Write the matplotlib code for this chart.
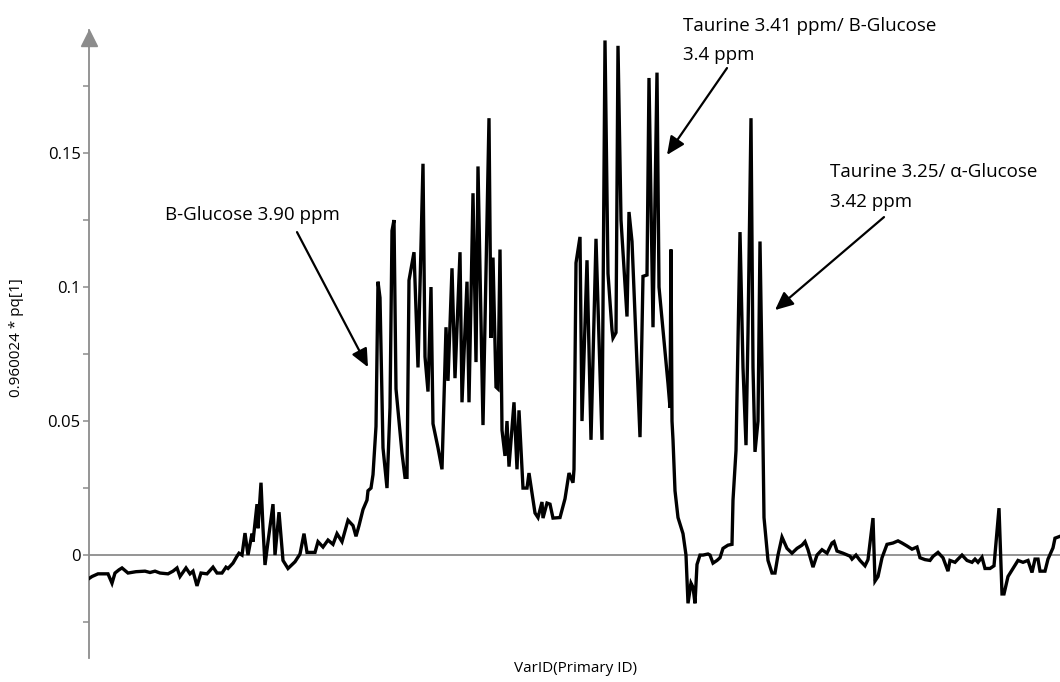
import matplotlib
matplotlib.use("Agg")
import matplotlib.pyplot as plt
import matplotlib.transforms as mtransforms

plt.rcParams["font.family"] = ["Open Sans", "DejaVu Sans"]

# loading profile (VarID vs scaled pq[1])
var_id = [
    88, 92, 98, 108, 112, 115, 119, 122, 128, 136, 145, 150, 155, 160, 168, 173,
    177, 180, 186, 190, 193, 197, 201, 207, 213, 217, 222, 226, 228, 233, 237, 239,
    242, 245, 248, 252, 253, 257, 258, 261, 263, 265, 268, 273, 275, 279, 283, 288,
    295, 300, 304, 307, 315, 318, 323, 328, 333, 337, 342, 348, 353, 356, 359, 363,
    367, 368, 371, 373, 376, 378, 380, 383, 387, 390, 392, 394, 396, 402, 405, 407,
    409, 414, 418, 423, 425, 428, 431, 433, 438, 442, 446, 448, 452, 455, 460, 462,
    467, 469, 473, 476, 478, 483, 489, 491, 493, 496, 498, 500, 502, 505, 507, 509,
    514, 517, 519, 523, 527, 529, 535, 538, 542, 543, 547, 550, 553, 560, 565, 569,
    573, 574, 576, 580, 582, 587, 591, 596, 602, 605, 608, 612, 613, 616, 618, 621,
    627, 629, 632, 640, 643, 647, 649, 653, 657, 659, 664, 668, 670, 671, 672, 673,
    675, 678, 683, 686, 688, 691, 693, 695, 697, 700, 703, 708, 710, 713, 717, 720,
    723, 728, 732, 733, 736, 740, 743, 746, 748, 751, 753, 755, 758, 760, 762, 764,
    768, 772, 775, 778, 782, 787, 792, 797, 802, 805, 808, 813, 817, 822, 827, 832,
    834, 837, 843, 850, 852, 856, 860, 865, 868, 873, 875, 878, 882, 887, 893, 898,
    902, 907, 912, 917, 920, 925, 930, 933, 938, 943, 948, 950, 955, 958, 962, 967,
    972, 975, 978, 982, 985, 990, 994, 999, 1002, 1004, 1008, 1013, 1018, 1023, 1028, 1032,
    1035, 1038, 1040, 1045, 1048, 1053, 1055, 1060,
]
pq1 = [
    -0.009, -0.008, -0.007, -0.007, -0.0105, -0.0067, -0.0055, -0.0048, -0.0067, -0.0062, -0.006, -0.0065, -0.006, -0.0067, -0.007, -0.006,
    -0.0048, -0.008, -0.0048, -0.007, -0.006, -0.0115, -0.0067, -0.007, -0.0045, -0.0067, -0.0067, -0.0045, -0.005, -0.003, -0.0004, 0.0007,
    0.0, 0.0082, 0.0, 0.008, 0.005, 0.019, 0.010, 0.027, 0.010, -0.0037, 0.005, 0.019, 0.0, 0.016, -0.002, -0.005,
    -0.0025, 0.0004, 0.008, 0.001, 0.001, 0.005, 0.003, 0.0056, 0.004, 0.008, 0.005, 0.013, 0.011, 0.007, 0.011, 0.017,
    0.0205, 0.024, 0.025, 0.030, 0.048, 0.102, 0.096, 0.040, 0.025, 0.055, 0.121, 0.125, 0.062, 0.038, 0.029, 0.029,
    0.1025, 0.113, 0.070, 0.146, 0.074, 0.061, 0.100, 0.049, 0.040, 0.032, 0.085, 0.065, 0.107, 0.066, 0.113, 0.057,
    0.102, 0.057, 0.135, 0.072, 0.145, 0.0485, 0.163, 0.081, 0.111, 0.0627, 0.062, 0.114, 0.0466, 0.037, 0.050, 0.033,
    0.057, 0.032, 0.054, 0.025, 0.025, 0.0306, 0.0157, 0.014, 0.0198, 0.0138, 0.0194, 0.019, 0.0138, 0.014, 0.021, 0.0306,
    0.027, 0.032, 0.109, 0.1187, 0.050, 0.110, 0.043, 0.118, 0.043, 0.192, 0.105, 0.084, 0.081, 0.083, 0.190, 0.125,
    0.089, 0.128, 0.117, 0.044, 0.104, 0.1045, 0.178, 0.085, 0.180, 0.100, 0.080, 0.064, 0.055, 0.114, 0.050, 0.043,
    0.024, 0.014, 0.008, 0.0, -0.018, -0.0105, -0.012, -0.018, -0.0035, 0.0, 0.0, 0.0004, 0.0, -0.003, -0.002, -0.001,
    0.0025, 0.0037, 0.004, 0.0205, 0.039, 0.1205, 0.070, 0.041, 0.083, 0.163, 0.070, 0.0385, 0.050, 0.117, 0.070, 0.014,
    -0.002, -0.0067, -0.0067, 0.0, 0.0067, 0.0025, 0.0007, 0.0025, 0.0037, 0.005, 0.002, -0.0045, 0.0, 0.002, 0.0007, 0.0045,
    0.005, 0.0015, 0.0007, -0.0004, -0.0015, 0.0, -0.002, -0.004, -0.0017, 0.0138, -0.0097, -0.008, -0.001, 0.004, 0.0045, 0.0053,
    0.0045, 0.0034, 0.0022, 0.003, -0.001, -0.0017, -0.002, -0.0005, 0.001, -0.001, -0.006, -0.002, -0.0027, -0.0015, 0.0, -0.002,
    -0.0027, -0.0015, -0.0027, -0.0008, -0.005, -0.005, -0.004, 0.0175, -0.0145, -0.0145, -0.008, -0.005, -0.002, -0.0027, -0.002, -0.0065,
    -0.0015, -0.0015, -0.006, -0.006, -0.0015, 0.0027, 0.0063, 0.007,
]

major_ticks = [0, 0.05, 0.1, 0.15]
major_labels = ["0", "0.05", "0.1", "0.15"]
minor_ticks = [-0.025, 0.025, 0.075, 0.125, 0.175]

# (text lines, left x, line y's, arrow tail, arrow tip) in data units
annotations = [
    (["B-Glucose 3.90 ppm"], 165, [0.1269], (297, 0.1205), (368, 0.0701)),
    (["Taurine 3.41 ppm/ B-Glucose", "3.4 ppm"], 683, [0.1974, 0.1866],
     (727, 0.1817), (667, 0.1493)),
    (["Taurine 3.25/ α-Glucose", "3.42 ppm"], 830, [0.1429, 0.1317],
     (884, 0.1261), (775, 0.0914)),
]

GRAY = "#8c8c8c"

fig = plt.figure(figsize=(10.6, 6.82), dpi=100)
ax = fig.add_axes([89 / 1060, 1 - 658 / 682, 1 - 89 / 1060, (658 - 30) / 682])

ax.plot(var_id, pq1, color="black", lw=2.4, solid_joinstyle="miter", zorder=3)
ax.axhline(0, color=GRAY, lw=1.3, zorder=1)

ax.set_xlim(89, 1060)
ax.set_ylim(-0.0384, 0.1959)

for side in ("top", "right", "bottom"):
    ax.spines[side].set_visible(False)
ax.spines["left"].set_color(GRAY)
ax.spines["left"].set_linewidth(1.3)

ax.set_xticks([])
ax.set_yticks(major_ticks)
ax.set_yticklabels(major_labels)
ax.set_yticks(minor_ticks, minor=True)
ax.tick_params(axis="y", which="major", length=4.5, width=1.1, color=GRAY,
               labelsize=12, pad=1.5)
ax.tick_params(axis="y", which="minor", length=4, width=1.1, color=GRAY)

# arrowhead on top of the y axis
tip = mtransforms.offset_copy(ax.transAxes, fig=fig, y=-8, units="dots")
ax.plot([0], [1], marker="^", markersize=11, color=GRAY, transform=tip,
        clip_on=False, zorder=4)

for lines, left, ys, tail, head in annotations:
    for line, y in zip(lines, ys):
        ax.text(left, y, line, ha="left", va="center", fontsize=13.5)
    ax.annotate("", xy=head, xytext=tail,
                arrowprops=dict(arrowstyle="-|>,head_length=0.55,head_width=0.25",
                                color="black", lw=1.6, mutation_scale=20,
                                shrinkA=0, shrinkB=0))

fig.text(17 / 1060, 1 - 338 / 682, "0.960024 * pq[1]", rotation=90,
         ha="center", va="center", fontsize=11)
fig.text(575 / 1060, 1 - 668 / 682, "VarID(Primary ID)", ha="center",
         va="center", fontsize=11)

fig.savefig("out.png", dpi=100)
